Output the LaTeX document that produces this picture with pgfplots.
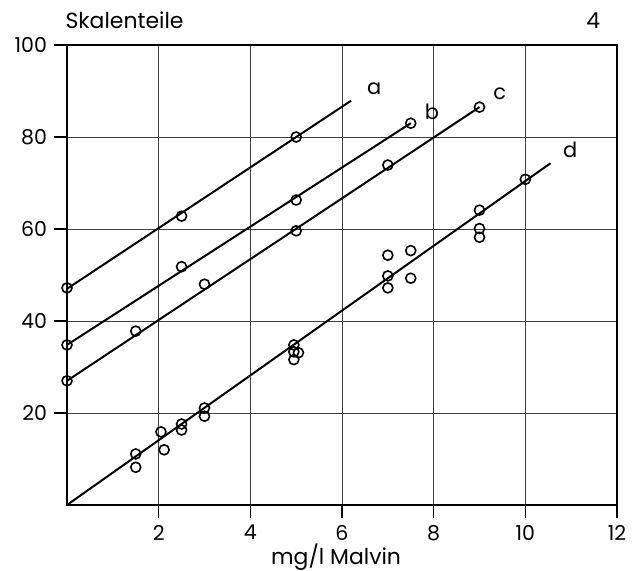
\documentclass[border=0pt]{standalone}
\usepackage{fontspec}
\setmainfont{Poppins}
\usepackage{pgfplots}
\pgfplotsset{compat=1.18}
\pgfplotsset{
  fitline/.style={black, line width=1bp, no marks},
  meas/.style={black, only marks, mark=o, mark size=2.5bp,
    mark options={fill=white, line width=0.8bp}},
}
\begin{document}
\begin{tikzpicture}
\begin{axis}[
  scale only axis, width=275bp, height=230bp,
  xmin=0, xmax=12, ymin=0, ymax=100,
  xtick={2,4,...,12}, ytick={20,40,...,100},
  tick pos=left, tick align=outside, major tick length=6.5bp,
  grid=major, grid style={line width=0.45bp, black!75},
  axis line style={line width=1bp},
  every tick/.style={line width=0.8bp, black},
  ticklabel style={font=\fontsize{10.3}{12}\selectfont},
  /pgf/number format/assume math mode=true,
  clip=false,
]
% fitted lines
\addplot[fitline] coordinates {(0,47) (6.2,87.9)};
\addplot[fitline] coordinates {(0,34.8) (7.5,83)};
\addplot[fitline] coordinates {(0,27) (9,86.5)};
\addplot[fitline] coordinates {(0,0) (10.55,74.3)};
% measured points
\addplot[meas] coordinates {(0,47.2) (2.5,62.8) (5,80)};
\addplot[meas] coordinates {(0,34.8) (2.5,51.8) (5,66.3) (7.5,83)};
\addplot[meas] coordinates {(0,27) (1.5,37.8) (3,48) (5,59.6) (7,73.9) (9,86.5)};
\addplot[meas] coordinates {
  (1.5,11.1) (1.5,8.2) (2.05,15.9) (2.12,12) (2.5,17.6) (2.5,16.3)
  (3,21.1) (3,19.3) (4.95,34.8) (4.95,33.3) (5.05,33.1) (4.95,31.6)
  (7,54.3) (7,49.8) (7,47.2) (7.5,55.3) (7.5,49.3)
  (9,64.1) (9,60.1) (9,58.2) (10,70.8)};
\node[anchor=base, font=\fontsize{10.5}{12}\selectfont] at (axis cs:6.70,89.3) {a};
\node[anchor=base, font=\fontsize{10.5}{12}\selectfont] at (axis cs:7.96,83.9) {b};
\node[anchor=base, font=\fontsize{10.5}{12}\selectfont] at (axis cs:9.44,88.2) {c};
\node[anchor=base, font=\fontsize{10.5}{12}\selectfont] at (axis cs:10.98,75.6) {d};
\node[anchor=base west, inner sep=0pt, font=\fontsize{11}{12}\selectfont] at (axis cs:-0.04,103.5) {Skalenteile};
\node[anchor=base, inner sep=0pt, font=\fontsize{11}{12}\selectfont] at (axis cs:11.48,103.5) {4};
\node[anchor=base, inner sep=0pt, font=\fontsize{11}{12}\selectfont] at (axis cs:5.87,-13) {mg/l Malvin};
\end{axis}
\pgfresetboundingbox
\path ([shift={(-33.5bp,-33bp)}]current axis.south west) rectangle ([shift={(11.5bp,22.5bp)}]current axis.north east);
\end{tikzpicture}
\end{document}
